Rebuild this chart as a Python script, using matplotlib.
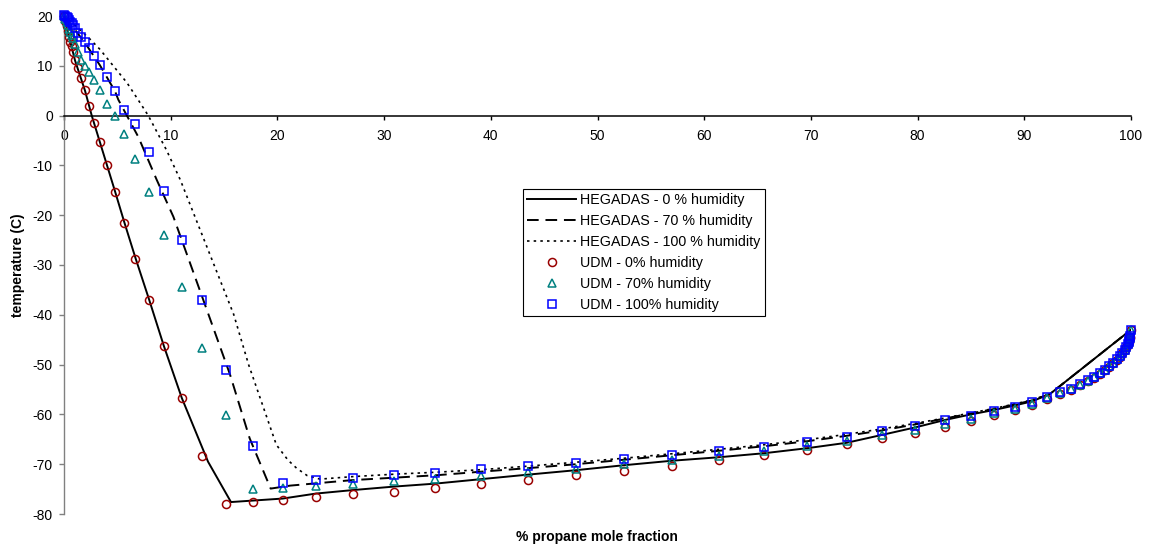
import matplotlib
matplotlib.use("Agg")
import matplotlib.pyplot as plt

plt.rcParams['font.family'] = ['Liberation Sans', 'DejaVu Sans']
plt.rcParams['axes.unicode_minus'] = False

# ---------------- data ----------------
# shared x grid of the UDM points (% propane mole fraction)
udm_x = [0.0, 0.12, 0.25, 0.36, 0.5, 0.6, 0.71, 0.84, 1.03, 1.31, 1.6, 1.97, 2.36, 2.81, 3.33,
         4.02, 4.78, 5.65, 6.7, 7.97, 9.35, 11.04, 12.98, 15.2, 17.7, 20.5, 23.6, 27.05, 30.9,
         34.8, 39.1, 43.45, 48.0, 52.5, 57.0, 61.4, 65.6, 69.6, 73.35, 76.7, 79.8, 82.6, 85.0,
         87.2, 89.1, 90.7, 92.1, 93.35, 94.35, 95.2, 95.95, 96.5, 97.1, 97.55, 97.97, 98.35,
         98.7, 98.95, 99.2, 99.4, 99.55, 99.68, 99.78, 99.85, 99.9, 99.95, 100.0]

udm_0 = [20.0, 19.0, 17.9, 16.9, 15.7, 14.8, 13.9, 12.7, 11.1, 9.5, 7.5, 5.05, 2.0, -1.4, -5.3,
         -9.9, -15.3, -21.5, -28.7, -37.0, -46.3, -56.8, -68.4, -78.0, -77.5, -77.1, -76.6, -76.0,
         -75.5, -74.7, -74.0, -73.2, -72.2, -71.3, -70.3, -69.2, -68.2, -67.2, -66.0, -64.8, -63.8,
         -62.6, -61.3, -60.1, -59.1, -58.1, -57.0, -55.9, -55.0, -54.1, -53.3, -52.6, -51.8, -51.1,
         -50.4, -49.7, -49.0, -48.4, -47.7, -47.1, -46.5, -46.0, -45.5, -45.1, -44.7, -44.4, -43.0]

udm_70 = [20.0, 19.4, 18.7, 18.1, 17.3, 16.8, 16.2, 15.5, 14.4, 12.8, 11.2, 9.96, 8.75, 7.1, 5.1,
          2.4, 0.0, -3.6, -8.75, -15.4, -23.9, -34.5, -46.6, -60.2, -75.0, -74.8, -74.3, -73.9,
          -73.3, -72.9, -72.3, -71.6, -70.9, -70.0, -69.2, -68.3, -67.3, -66.3, -65.3, -64.2, -63.2,
          -62.0, -60.9, -59.8, -58.9, -57.9, -56.8, -55.7, -54.9, -54.0, -53.2, -52.5, -51.7, -51.05,
          -50.35, -49.65, -48.95, -48.35, -47.65, -47.05, -46.45, -45.95, -45.45, -45.05, -44.65,
          -44.35, -43.0]

udm_100 = [20.3, 20.1, 19.8, 19.5, 19.1, 18.8, 18.5, 18.1, 17.5, 16.6, 15.7, 14.7, 13.5, 12.0, 10.2,
           7.8, 4.9, 1.2, -1.7, -7.3, -15.1, -25.0, -37.0, -51.0, -66.3, -73.7, -73.2, -72.7,
           -72.2, -71.8, -71.0, -70.35, -69.75, -68.95, -68.2, -67.3, -66.5, -65.5, -64.5, -63.4,
           -62.4, -61.1, -60.3, -59.4, -58.6, -57.6, -56.6, -55.6, -54.8, -53.9, -53.1, -52.4, -51.6,
           -51.0, -50.3, -49.6, -48.9, -48.3, -47.6, -47.0, -46.4, -45.9, -45.4, -45.0, -44.6, -44.3,
           -43.0]

# HEGADAS curves
heg0_x = [0, 0.5, 1.03, 1.97, 2.6, 4.02, 4.78, 5.65, 6.7, 7.97, 9.35, 11.04, 13.5, 15.65, 20.5,
          23.6, 27.05, 30.9, 34.8, 39.1, 43.45, 48.0, 52.5, 57.0, 61.4, 65.6, 69.6, 73.35, 76.7,
          79.8, 82.6, 85.0, 87.2, 89.1, 90.7, 92.4, 100]
heg0_t = [20, 15.6, 11.1, 5.0, 0, -9.9, -15.2, -21.4, -28.6, -36.9, -46.2, -56.7, -69.5, -77.6,
          -76.9, -75.9, -75.2, -74.5, -73.9, -73.0, -72.1, -71.2, -70.2, -69.3, -68.6, -67.8, -66.8,
          -65.7, -64.1, -62.6, -61.1, -60.0, -59.1, -58.2, -57.4, -55.9, -43.0]

heg70_x = [0, 1.0, 1.97, 3.37, 4.78, 5.09, 6.97, 8.69, 10.25, 12.75, 15.56, 17.4, 19.37, 21.2, 27,
           31, 35, 39.1, 43.45, 48, 52.5, 57, 61.4, 65.6, 69.6, 73.35, 76.7, 79.8, 82.6, 85, 87.2,
           89.1, 90.7, 92.4, 100]
heg70_t = [20, 17.3, 14.6, 10.1, 4.9, 3.2, -4.3, -12.9, -20.3, -35.2, -52.0, -64.8, -74.9, -74.3,
           -73.2, -72.7, -72.2, -71.5, -70.8, -70.0, -69.1, -68.2, -67.3, -66.4, -65.4, -64.3, -63.2,
           -62.0, -60.8, -59.8, -58.9, -58.0, -57.2, -55.9, -43.0]

heg100_x = [0, 1.0, 2.44, 3.37, 4.5, 5.9, 7.0, 7.9, 9.6, 10.9, 13.4, 15.9, 17.3, 19.9, 21.0, 21.8,
            22.8, 24.0, 27, 31, 35, 39.1, 43.45, 48, 52.5, 57, 61.4, 65.6, 69.6, 73.35, 76.7, 79.8,
            82.6, 85, 87.2, 89.1, 90.7, 92.4, 100]
heg100_t = [20, 18.2, 15.35, 13.3, 10.3, 6.6, 3.0, 0, -6.9, -12.9, -26.4, -39.9, -50.0, -66.1,
            -69.2, -70.8, -72.3, -73.0, -72.5, -72.0, -71.6, -71.1, -70.4, -69.6, -68.8, -67.9,
            -67.0, -66.1, -65.1, -64.0, -62.9, -61.8, -60.7, -59.7, -58.8, -57.9, -57.1, -55.9, -43.0]

x_ticks = [0, 10, 20, 30, 40, 50, 60, 70, 80, 90, 100]
y_ticks = [-80, -70, -60, -50, -40, -30, -20, -10, 0, 10, 20]

# ---------------- figure ----------------
fig = plt.figure(figsize=(11.52, 5.49), dpi=100)
ax = fig.add_axes([64 / 1152, 35 / 549, 1067 / 1152, 498 / 549])

ax.plot(heg0_x, heg0_t, color='black', lw=1.4, ls='-', label='HEGADAS - 0 % humidity', zorder=2)
ax.plot(heg70_x, heg70_t, color='black', lw=1.4, ls=(0, (6, 3.5)), label='HEGADAS - 70 % humidity', zorder=2)
ax.plot(heg100_x, heg100_t, color='black', lw=1.2, ls=(0, (1.5, 2.5)), label='HEGADAS - 100 % humidity', zorder=2)

ax.plot(udm_x, udm_0, ls='none', marker='o', ms=5.8, mfc='none', mec='#990000', mew=1.1,
        label='UDM - 0% humidity', clip_on=False, zorder=3)
ax.plot(udm_x, udm_70, ls='none', marker='^', ms=6.3, mfc='none', mec='#008080', mew=1.1,
        label='UDM - 70% humidity', clip_on=False, zorder=4)
ax.plot(udm_x, udm_100, ls='none', marker='s', ms=5.6, mfc='none', mec='#0000ff', mew=1.1,
        label='UDM - 100% humidity', clip_on=False, zorder=5)

ax.set_xlim(0, 100)
ax.set_ylim(-80, 20)
ax.set_xticks(x_ticks)
ax.set_yticks(y_ticks)

for s in ['top', 'right']:
    ax.spines[s].set_visible(False)
ax.spines['bottom'].set_position(('data', 0))
ax.spines['bottom'].set_color('black')
ax.spines['bottom'].set_linewidth(1.1)
ax.spines['left'].set_color('#808080')
ax.spines['left'].set_linewidth(1.0)

ax.tick_params(axis='y', direction='out', length=3.6, width=1.0, color='#808080',
               labelsize=10, pad=4.5, labelcolor='black')
ax.tick_params(axis='x', direction='out', length=3.0, width=1.0, color='black',
               labelsize=10, pad=7, labelcolor='black')

fig.text(597 / 1152, 1 - 537 / 549, '% propane mole fraction', ha='center', va='center',
         fontsize=10, fontweight='bold')
fig.text(18 / 1152, 1 - 265 / 549, 'temperature (C)', ha='center', va='center',
         rotation=90, fontsize=10, fontweight='bold')

leg = ax.legend(loc='upper left', bbox_to_anchor=((523 - 64) / 1067, (514 - 189) / 498),
                borderaxespad=0, prop={'size': 10.3}, frameon=True, fancybox=False, framealpha=1,
                edgecolor='black', handlelength=3.4, handletextpad=0.3, labelspacing=0.48,
                borderpad=0.3, numpoints=1)
leg.get_frame().set_linewidth(0.8)

fig.savefig('out.png', dpi=100)
